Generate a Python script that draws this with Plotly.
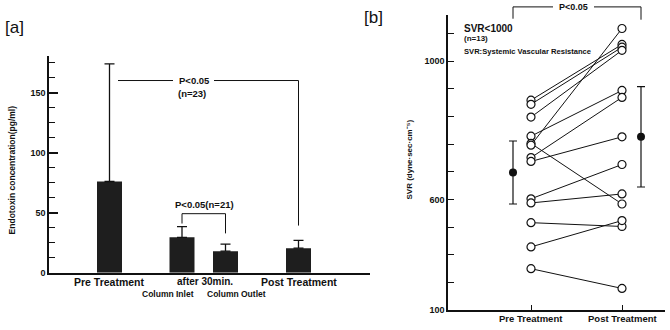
import plotly.graph_objects as go

W, H = 670, 330

# ---------------- data ----------------
# panel [a]: endotoxin concentration (pg/ml)
a_groups = ["Pre Treatment", "Column Inlet", "Column Outlet", "Post Treatment"]
a_means = [76, 29.5, 18, 20.5]
a_sd = [97.8, 9, 5.8, 6.5]
a_tick_labels = ["0", "50", "100", "150"]

# panel [b]: SVR (dyne·sec·cm-5), paired patients (n=13)
b_categories = ["Pre Treatment", "Post Treatment"]
pre_svr = [887, 875, 838, 783, 762, 757, 721, 710, 602, 590, 533, 463, 400]
post_svr = [1048, 1040, 1031, 915, 587, 1094, 895, 781, 701, 616, 522, 539, 343]
pre_mean, pre_sd = 678, 91
post_mean, post_sd = 781, 145
b_tick_vals = [280, 360, 440, 520, 600, 680, 760, 840, 920, 1000, 1080]
b_tick_text = ["100", "", "", "", "600", "", "", "", "", "1000", ""]

# ---------------- layout constants ----------------
a_xpos = [60.5, 133, 176.5, 249.5]      # bar centres on panel-a x axis
b_xpos = [83, 174]                      # pre / post columns
b_mean_xpos = [65, 193]                 # mean ± SD markers

FONT = "Liberation Sans"
INK = "#111111"


def py(px):
    """pixel row -> paper y"""
    return 1 - px / H


def pxx(px):
    return px / W


fig = go.Figure()

# panel a bars
fig.add_trace(go.Bar(
    x=a_xpos, y=a_means, width=25,
    marker=dict(color="#1e1e1e", line=dict(width=0)),
    error_y=dict(type="data", array=a_sd, arrayminus=[0] * len(a_sd), symmetric=False,
                 color=INK, thickness=1.3, width=5),
    xaxis="x", yaxis="y", showlegend=False, hoverinfo="y",
))

# panel b paired lines
lx, ly = [], []
for a, b in zip(pre_svr, post_svr):
    lx += [b_xpos[0], b_xpos[1], None]
    ly += [a, b, None]
fig.add_trace(go.Scatter(x=lx, y=ly, mode="lines", line=dict(color=INK, width=1),
                         xaxis="x2", yaxis="y2", showlegend=False, hoverinfo="skip"))
fig.add_trace(go.Scatter(
    x=[b_xpos[0]] * len(pre_svr) + [b_xpos[1]] * len(post_svr),
    y=pre_svr + post_svr, mode="markers",
    marker=dict(symbol="circle", size=8, color="white", line=dict(color=INK, width=1.2)),
    xaxis="x2", yaxis="y2", showlegend=False,
))
fig.add_trace(go.Scatter(
    x=b_mean_xpos, y=[pre_mean, post_mean], mode="markers",
    marker=dict(symbol="circle", size=8, color=INK),
    error_y=dict(type="data", array=[pre_sd, post_sd], color=INK, thickness=1.2, width=4),
    xaxis="x2", yaxis="y2", showlegend=False,
))

tickfont = dict(family=FONT, size=9, color=INK, weight="bold")

fig.update_layout(
    width=W, height=H, margin=dict(l=0, r=0, t=0, b=0),
    paper_bgcolor="white", plot_bgcolor="rgba(0,0,0,0)",
    xaxis=dict(domain=[pxx(49), pxx(370)], range=[0, 321], showline=True, linecolor=INK,
               linewidth=1.5, showgrid=False, zeroline=False, showticklabels=False, ticks=""),
    yaxis=dict(domain=[py(277), py(57)], range=[0, 180.3], showline=True, linecolor=INK,
               linewidth=1.5, showgrid=False, zeroline=False,
               tickmode="linear", tick0=0, dtick=50,
               ticks="inside", ticklen=9, tickwidth=1.5, tickcolor=INK, tickfont=tickfont,
               minor=dict(tickmode="linear", tick0=0, dtick=12.5, ticks="inside", ticklen=6,
                          tickwidth=1.3, tickcolor=INK, showgrid=False)),
    xaxis2=dict(domain=[pxx(448), pxx(665)], range=[0, 217], showline=True, linecolor=INK,
                linewidth=1.5, showgrid=False, zeroline=False,
                tickmode="array", tickvals=b_xpos, ticktext=["", ""],
                ticks="inside", ticklen=5, tickwidth=1.3, tickcolor=INK, anchor="y2"),
    yaxis2=dict(domain=[py(315), py(15)], range=[280, 1133.7], showline=True, linecolor=INK,
                linewidth=1.5, showgrid=False, zeroline=False, anchor="x2",
                tickmode="array", tickvals=b_tick_vals, ticktext=b_tick_text,
                ticks="inside", ticklen=6, tickwidth=1.3, tickcolor=INK, tickfont=tickfont),
)

ann = []
shapes = []


def text(x, y, s, xref="paper", yref="paper", size=9, xanchor="center", yanchor="middle",
         angle=0, bold=True):
    ann.append(dict(x=x, y=y, xref=xref, yref=yref, text=s, showarrow=False,
                    xanchor=xanchor, yanchor=yanchor, textangle=angle,
                    font=dict(family=FONT, size=size, color=INK,
                              weight="bold" if bold else "normal")))


def line(x0, y0, x1, y1, xref, yref):
    shapes.append(dict(type="line", x0=x0, y0=y0, x1=x1, y1=y1, xref=xref, yref=yref,
                       line=dict(color=INK, width=1)))


# panel labels
text(pxx(3), py(28), "[a]", size=17, xanchor="left", bold=False)
text(pxx(362), py(18), "[b]", size=17, xanchor="left", bold=False)

# panel a axis title and category labels
text(pxx(12), py(173), "Endotoxin concentration(pg/ml)", size=8.5, angle=-90)
text(a_xpos[0], py(286), "Pre Treatment", xref="x", size=10.5)
text((a_xpos[1] + a_xpos[2]) / 2 + 1, py(286), "after 30min.", xref="x", size=10)
text(a_xpos[3], py(286), "Post Treatment", xref="x", size=10.5)
text(a_xpos[1] - 14, py(299), "Column Inlet", xref="x", size=8.5)
text(a_xpos[2] + 10.5, py(299), "Column Outlet", xref="x", size=8.5)

# panel a big bracket
line(69, 160, 124, 160, "x", "y")
line(165, 160, a_xpos[3], 160, "x", "y")
line(a_xpos[3], 160, a_xpos[3], 39.3, "x", "y")
text(145, 160, "P&lt;0.05", xref="x", yref="y", size=9.5)
text(143, 149.2, "(n=23)", xref="x", yref="y", size=9.5)

# panel a small bracket
line(a_xpos[1], 49.2, a_xpos[2], 49.2, "x", "y")
line(a_xpos[1], 49.2, a_xpos[1], 41, "x", "y")
line(a_xpos[2], 49.2, a_xpos[2], 32.8, "x", "y")
text(155, 56.6, "P&lt;0.05(n=21)", xref="x", yref="y", size=9.5)

# panel b texts
text(pxx(410), py(162), "SVR (dyne·sec·cm⁻⁵)", size=8, angle=-90)
text(14, py(29), "SVR&lt;1000", xref="x2", size=10, xanchor="left")
text(14, py(39), "(n=13)", xref="x2", size=8, xanchor="left")
text(14, py(52), "SVR:Systemic Vascular Resistance", xref="x2", size=7.6, xanchor="left")
text(b_xpos[0], py(323), b_categories[0], xref="x2", size=9.5)
text(b_xpos[1], py(323), b_categories[1], xref="x2", size=9.5)

# panel b bracket
line(b_mean_xpos[0], py(7), 105, py(7), "x2", "paper")
line(146, py(7), b_mean_xpos[1], py(7), "x2", "paper")
line(b_mean_xpos[0], py(7), b_mean_xpos[0], py(19), "x2", "paper")
line(b_mean_xpos[1], py(7), b_mean_xpos[1], py(20), "x2", "paper")
text(125.5, py(7), "P&lt;0.05", xref="x2", size=9)

fig.update_layout(annotations=ann, shapes=shapes)

fig.write_html("out.html", config={"displayModeBar": False},
               post_script="document.body.style.margin='0';document.body.style.padding='0';")
